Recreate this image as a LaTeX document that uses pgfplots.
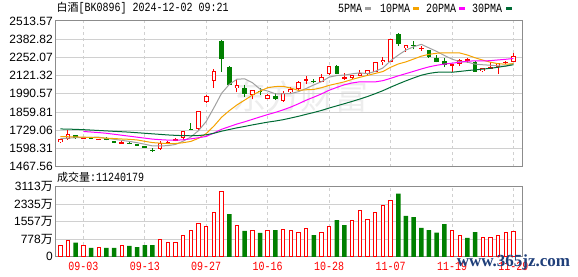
\documentclass[border=0pt]{standalone}
\usepackage{pgfplots}
\pgfplotsset{compat=1.18}
\usepackage{pgfplotstable}
\usepackage{fontspec}
\setmainfont{Liberation Sans}
\newfontfamily\cjk{Noto Sans CJK SC}
\newfontfamily\mono[FakeStretch=0.8]{Liberation Mono}
\newfontfamily\wmfont{Liberation Serif}
\definecolor{upred}{HTML}{FF0000}
\definecolor{dngreen}{HTML}{008000}
\definecolor{maA}{HTML}{A0A0A0}
\definecolor{maB}{HTML}{F5A300}
\definecolor{maC}{HTML}{FF00FF}
\definecolor{maD}{HTML}{006B35}
\definecolor{gridc}{HTML}{D0D0D0}
\definecolor{framec}{HTML}{8C8C8C}
\definecolor{wmblue}{HTML}{1F3F7A}

\pgfplotstableread{
i O H L C
0 1642 1666 1640 1664
1 1666 1730 1659 1702
3 1675 1682 1672 1678
5 1664 1669 1662 1667
8 1637 1650 1630 1640
13 1592 1653 1590 1639
14 1641 1648 1638 1645
15 1651 1671 1648 1664
16 1675 1722 1660 1720
18 1735 1869 1733 1867
19 1934 1984 1922 1975
20 2085 2166 2034 2156
23 2030 2095 2000 2054
25 1982 2020 1951 2018
27 1955 1986 1953 1984
29 1939 2013 1934 1994
30 2001 2042 1989 2025
31 2023 2080 2013 2075
32 2085 2118 2061 2097
34 2078 2133 2076 2109
35 2131 2192 2129 2190
37 2102 2138 2090 2113
38 2104 2128 2100 2126
39 2118 2161 2116 2143
40 2131 2163 2128 2161
41 2150 2219 2148 2217
42 2217 2253 2197 2233
43 2221 2386 2219 2384
45 2317 2343 2293 2341
47 2314 2336 2300 2320
51 2192 2204 2149 2202
52 2202 2238 2192 2233
53 2226 2246 2214 2238
55 2154 2176 2145 2174
56 2174 2217 2172 2185
57 2185 2212 2133 2210
58 2214 2228 2202 2221
59 2221 2286 2220 2262
}\upc

\pgfplotstableread{
i O H L C
2 1695 1698 1669 1675
4 1675 1680 1665 1672
6 1675 1678 1656 1659
7 1646 1652 1636 1643
9 1637 1641 1627 1634
10 1625 1627 1618 1621
11 1615 1617 1600 1603
12 1587 1599 1572 1583
17 1740 1783 1733 1735
21 2370 2377 2149 2238
22 2185 2187 2052 2054
24 2034 2054 1970 1989
26 2013 2030 1982 2008
28 1977 1996 1946 1951
33 2085 2097 2068 2080
36 2190 2197 2131 2133
44 2418 2430 2336 2348
46 2341 2372 2310 2336
48 2305 2307 2250 2257
49 2250 2269 2216 2221
50 2226 2250 2183 2197
54 2221 2225 2148 2149
}\dnc

\pgfplotstableread{
i V
0 480
1 746
3 480
5 422
8 511
13 777
14 613
15 613
16 955
17 1177
18 1487
19 1367
20 1958
21 2908
23 1398
25 1177
27 1146
29 1221
30 1146
31 1101
32 1265
34 1101
35 1367
38 1621
39 2078
40 1665
41 1989
42 2300
43 2522
51 1146
52 955
55 866
56 866
57 955
58 1057
59 1124
}\volup

\pgfplotstableread{
i V
2 626
4 391
6 391
7 391
9 480
10 435
11 524
12 524
22 1900
24 1146
26 1057
28 1190
33 968
36 1634
37 1412
44 2802
45 1812
46 1767
47 1279
48 1190
49 1070
50 1456
53 835
54 1101
}\voldn

\pgfplotsset{kstyle/.style={
  scale only axis, width=467.3pt,
  xmin=-0.69, xmax=60.15,
  axis line style={draw=framec, line width=1pt},
  major tick length=0pt,
  xmajorgrids, ymajorgrids,
  x grid style={gridc, dash pattern=on 3pt off 3pt, line width=0.8pt},
  y grid style={gridc, line width=1pt},
  xtick={3,11,19,27,35,43,51,59},
  yticklabel style={font=\fontsize{12}{12}\selectfont, anchor=east, inner sep=0pt, xshift=-2pt},
},
candle/.style n args={2}{draw=none, mark=none, forget plot,
  error bars/.cd, y dir=#1, y explicit, error mark=none,
  error bar style={#2, solid}}
}

\begin{document}
\begin{tikzpicture}
\path[use as bounding box] (0,0) rectangle (578pt,276pt);
\node[text=black!7, font=\cjk\fontsize{34}{34}\selectfont, inner sep=0pt] at (300pt,180pt) {东方财富};

% price axis
\begin{axis}[kstyle, height=145.6pt, at={(55pt,109.4pt)}, anchor=south west,
  ymin=1467.56, ymax=2513.57,
  ytick={1467.56,1598.31,1729.06,1859.81,1990.57,2121.32,2252.07,2382.82,2513.57},
  yticklabels={1467.56,1598.31,1729.06,1859.81,1990.57,2121.32,2252.07,2382.82,2513.57},
  xticklabels={}]
% up candles: wick, body outline, hollow interior
\addplot[candle={plus}{draw=upred, line width=1pt}]
  table[x=i, y=L, y error expr=\thisrow{H}-\thisrow{L}] {\upc};
\addplot[candle={both}{draw=upred, line width=4.6pt, line cap=butt}]
  table[x=i, y expr=(\thisrow{O}+\thisrow{C})/2, y error expr={max((\thisrow{C}-\thisrow{O})/2,3.6)}] {\upc};
\addplot[candle={both}{draw=white, line width=2.6pt, line cap=butt}]
  table[x=i, y expr=(\thisrow{O}+\thisrow{C})/2, y error expr={max((\thisrow{C}-\thisrow{O})/2-7.2,0)}] {\upc};
% down candles
\addplot[candle={plus}{draw=dngreen, line width=1pt}]
  table[x=i, y=L, y error expr=\thisrow{H}-\thisrow{L}] {\dnc};
\addplot[candle={both}{draw=dngreen, line width=4.6pt, line cap=butt}]
  table[x=i, y expr=(\thisrow{O}+\thisrow{C})/2, y error expr={max((\thisrow{O}-\thisrow{C})/2,3.6)}] {\dnc};
% moving averages
\addplot[maA, line width=1pt, mark=none] coordinates {
(0,1668)(1,1672)(2,1675)(3,1677)(4,1678.2)(5,1678.8)(6,1670.2)(7,1663.8)(8,1656.2)(9,1648.6)
(10,1639.4)(11,1628.2)(12,1616.2)(13,1616)(14,1618.2)(15,1626.8)(16,1650.2)(17,1680.6)(18,1726.2)(19,1792.2)
(20,1890.6)(21,1994.2)(22,2058)(23,2095.4)(24,2098.2)(25,2070.6)(26,2024.6)(27,2010.6)(28,1990)(29,1991)
(30,1992.4)(31,2005.8)(32,2028.4)(33,2054.2)(34,2077.2)(35,2110.2)(36,2121.8)(37,2125)(38,2134.2)(39,2141)
(40,2135.2)(41,2152)(42,2176)(43,2227.6)(44,2268.6)(45,2304.6)(46,2328.4)(47,2345.8)(48,2320.4)(49,2295)
(50,2266.2)(51,2239.4)(52,2222)(53,2218.2)(54,2203.8)(55,2199.2)(56,2195.8)(57,2191.2)(58,2187.8)(59,2210.4)};
\addplot[maB, line width=1pt, mark=none] coordinates {
(0,1683)(1,1682)(2,1681)(3,1679)(4,1677)(5,1675)(6,1672)(7,1669)(8,1666)(9,1663.4)
(10,1659.1)(11,1649.2)(12,1640)(13,1636.1)(14,1633.4)(15,1633.1)(16,1639.2)(17,1648.4)(18,1671.1)(19,1705.2)
(20,1758.7)(21,1822.2)(22,1869.3)(23,1910.8)(24,1945.2)(25,1980.6)(26,2009.4)(27,2034.3)(28,2042.7)(29,2044.6)
(30,2031.5)(31,2015.2)(32,2019.5)(33,2022.1)(34,2034.1)(35,2051.3)(36,2063.8)(37,2076.7)(38,2094.2)(39,2109.1)
(40,2122.7)(41,2136.9)(42,2150.5)(43,2180.9)(44,2204.8)(45,2219.9)(46,2240.2)(47,2260.9)(48,2274)(49,2281.8)
(50,2285.4)(51,2283.9)(52,2283.9)(53,2269.3)(54,2249.4)(55,2232.7)(56,2217.6)(57,2206.6)(58,2203)(59,2207.1)};
\addplot[maC, line width=1pt, mark=none] coordinates {
(3,1720)(4,1716)(5,1712)(6,1707)(7,1700)(8,1693)(9,1686)
(10,1679)(11,1672)(12,1665)(13,1661)(14,1658)(15,1657)(16,1660)(17,1667)(18,1675)(19,1684.3)
(20,1708.9)(21,1735.7)(22,1754.7)(23,1773.5)(24,1789.3)(25,1806.9)(26,1824.3)(27,1841.4)(28,1856.9)(29,1874.9)
(30,1895.1)(31,1918.7)(32,1944.4)(33,1966.5)(34,1989.7)(35,2016)(36,2036.6)(37,2055.5)(38,2068.5)(39,2076.9)
(40,2077.1)(41,2076.1)(42,2085)(43,2101.5)(44,2119.5)(45,2135.6)(46,2152)(47,2168.8)(48,2184.1)(49,2195.5)
(50,2204.1)(51,2210.4)(52,2217.2)(53,2225.1)(54,2227.1)(55,2226.3)(56,2228.9)(57,2233.8)(58,2238.5)(59,2244.5)};
\addplot[maD, line width=1pt, mark=none] coordinates {
(0,1738)(1,1737)(2,1735)(3,1733)(4,1730)(5,1727)(6,1724)(7,1721)(8,1718)(9,1715)
(10,1711)(11,1707)(12,1703)(13,1699)(14,1695)(15,1692)(16,1690)(17,1689)(18,1691)(19,1696)
(20,1707)(21,1722)(22,1734)(23,1746)(24,1756)(25,1767)(26,1777)(27,1787)(28,1795)(29,1804.4)
(30,1816.4)(31,1828.9)(32,1842.9)(33,1856.3)(34,1870.9)(35,1888.3)(36,1904.1)(37,1919.8)(38,1936)(39,1953)
(40,1971)(41,1991.4)(42,2013.1)(43,2037.9)(44,2061.4)(45,2083.9)(46,2104.5)(47,2124)(48,2137)(49,2145.2)
(50,2146.5)(51,2145.3)(52,2151.3)(53,2157.4)(54,2162.8)(55,2168)(56,2173.9)(57,2181.4)(58,2190.4)(59,2199.3)};
\end{axis}

% volume axis
\begin{axis}[kstyle, height=70.1pt, at={(55pt,19.2pt)}, anchor=south west,
  ymin=0, ymax=3113,
  ytick={0,778,1557,2335,3113},
  yticklabels={0,778{\cjk 万},1557{\cjk 万},2335{\cjk 万},3113{\cjk 万}},
  xticklabels={09-03,09-13,09-27,10-16,10-28,11-07,11-19,11-29},
  xticklabel style={font=\mono\fontsize{12.5}{12.5}\selectfont, text=upred, anchor=north, inner sep=0pt, yshift=-5pt}]
\addplot[ybar, bar width=3.4pt, bar shift=0pt, draw=upred, fill=white, line width=1pt] table[x=i, y=V] {\volup};
\addplot[ybar, bar width=4.5pt, bar shift=0pt, draw=none, fill=dngreen] table[x=i, y=V] {\voldn};
\end{axis}

% title, legend, volume caption
\node[anchor=west, inner sep=0pt] at (56.5pt,267.5pt) {{\cjk\fontsize{11}{11}\selectfont 白酒}{\mono\fontsize{12.5}{12.5}\selectfont[BK0896] 2024-12-02 09:21}};
\node[anchor=west, inner sep=0pt, font=\mono\fontsize{12.5}{12.5}\selectfont] at (338pt,267.5pt) {5PMA};
\fill[maA] (365pt,265.7pt) rectangle (371pt,269.3pt);
\node[anchor=west, inner sep=0pt, font=\mono\fontsize{12.5}{12.5}\selectfont] at (380pt,267.5pt) {10PMA};
\fill[maB] (413pt,265.7pt) rectangle (419pt,269.3pt);
\node[anchor=west, inner sep=0pt, font=\mono\fontsize{12.5}{12.5}\selectfont] at (426pt,267.5pt) {20PMA};
\fill[maC] (459pt,265.7pt) rectangle (465pt,269.3pt);
\node[anchor=west, inner sep=0pt, font=\mono\fontsize{12.5}{12.5}\selectfont] at (472pt,267.5pt) {30PMA};
\fill[maD] (506pt,265.7pt) rectangle (512pt,269.3pt);
\node[anchor=west, inner sep=0pt] at (57pt,98.7pt) {{\cjk\fontsize{11}{11}\selectfont 成交量}{\mono\fontsize{12.5}{12.5}\selectfont :11240179}};
% watermark
\node[inner sep=0pt, text=wmblue, font=\wmfont\bfseries\fontsize{17}{17}\selectfont] at (513.5pt,14pt) {www.365jz.com};
\end{tikzpicture}
\end{document}
